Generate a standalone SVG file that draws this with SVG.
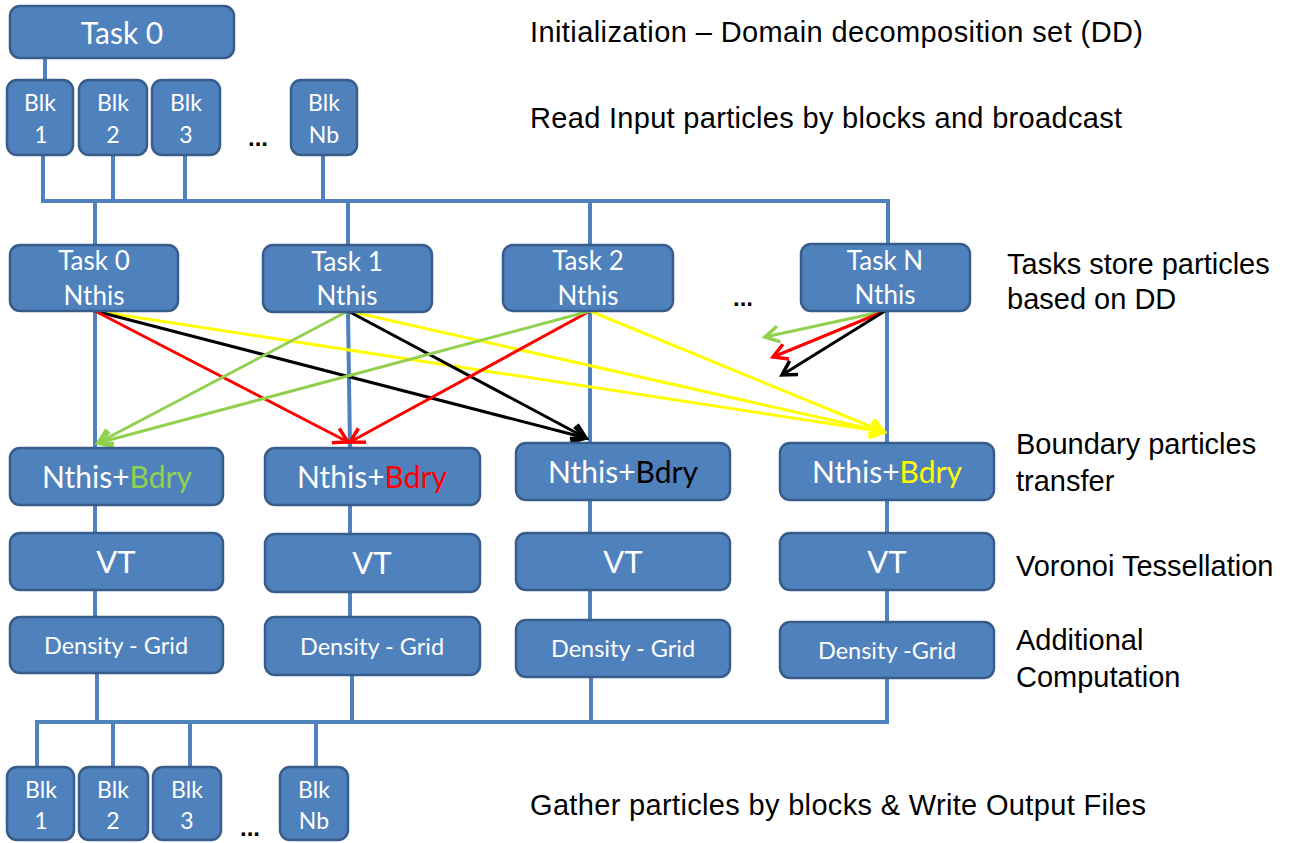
<svg xmlns="http://www.w3.org/2000/svg" width="1289" height="843" viewBox="0 0 1289 843">
<style>
.box{fill:#4F81BD;stroke:#385D8A;stroke-width:2.5}
.bt{fill:#FFFFFF;font-family:Lato,"Open Sans",sans-serif;text-anchor:middle}
.lbl{fill:#000000;font-family:"Liberation Sans",Arial,sans-serif;font-size:29px}
.dots{fill:#000000;font-family:"Liberation Sans",Arial,sans-serif;font-size:24px;font-weight:bold;text-anchor:middle}
.wire{stroke:#4F81BD;stroke-width:4;fill:none}
.arr{stroke-width:3;fill:none}
</style>
<defs>
<marker id="mY" markerUnits="userSpaceOnUse" markerWidth="20" markerHeight="20" viewBox="0 0 20 20" refX="17" refY="10" orient="auto"><path d="M3,2 L17,10 L3,18" fill="none" stroke="#FFFF00" stroke-width="3.5"/></marker>
<marker id="mR" markerUnits="userSpaceOnUse" markerWidth="20" markerHeight="20" viewBox="0 0 20 20" refX="17" refY="10" orient="auto"><path d="M3,2 L17,10 L3,18" fill="none" stroke="#FF0000" stroke-width="3.5"/></marker>
<marker id="mK" markerUnits="userSpaceOnUse" markerWidth="20" markerHeight="20" viewBox="0 0 20 20" refX="17" refY="10" orient="auto"><path d="M3,2 L17,10 L3,18" fill="none" stroke="#000000" stroke-width="3.5"/></marker>
<marker id="mG" markerUnits="userSpaceOnUse" markerWidth="20" markerHeight="20" viewBox="0 0 20 20" refX="17" refY="10" orient="auto"><path d="M3,2 L17,10 L3,18" fill="none" stroke="#92D050" stroke-width="3.5"/></marker>
</defs>
<rect width="1289" height="843" fill="#FFFFFF"/>

<g id="connectors">
<path class="wire" d="M45,58 V80"/>
<path class="wire" d="M43,155 V201 H888 V244"/>
<path class="wire" d="M113,155 V201"/>
<path class="wire" d="M185,155 V201"/>
<path class="wire" d="M323,155 V201"/>
<path class="wire" d="M95,201 V245"/>
<path class="wire" d="M348,201 V245"/>
<path class="wire" d="M590,201 V245"/>
<path class="wire" d="M95,311 V448"/>
<path class="wire" d="M348,312 L350,448"/>
<path class="wire" d="M590,311 V443"/>
<path class="wire" d="M887,311 V443"/>
<path class="wire" d="M95,505 V533"/>
<path class="wire" d="M350,505 V534"/>
<path class="wire" d="M590,500 V533"/>
<path class="wire" d="M887,500 V533"/>
<path class="wire" d="M95,590 V617"/>
<path class="wire" d="M350,592 V617"/>
<path class="wire" d="M590,590 V620"/>
<path class="wire" d="M887,590 V622"/>
<path class="wire" d="M97,673 V722"/>
<path class="wire" d="M352,675 V722"/>
<path class="wire" d="M591,677 V722"/>
<path class="wire" d="M887,678 V722 H37 V767"/>
<path class="wire" d="M113,722 V767"/>
<path class="wire" d="M190,722 V767"/>
<path class="wire" d="M316,722 V767"/>
<line class="arr" x1="95" y1="311" x2="884" y2="432" stroke="#FFFF00" marker-end="url(#mY)"/>
<line class="arr" x1="348" y1="311" x2="884" y2="432" stroke="#FFFF00" marker-end="url(#mY)"/>
<line class="arr" x1="590" y1="311" x2="884" y2="432" stroke="#FFFF00" marker-end="url(#mY)"/>
<line class="arr" x1="95" y1="311" x2="586" y2="438" stroke="#000000" marker-end="url(#mK)"/>
<line class="arr" x1="348" y1="311" x2="586" y2="438" stroke="#000000" marker-end="url(#mK)"/>
<line class="arr" x1="95" y1="311" x2="348" y2="442" stroke="#FF0000" marker-end="url(#mR)"/>
<line class="arr" x1="590" y1="311" x2="350" y2="442" stroke="#FF0000" marker-end="url(#mR)"/>
<line class="arr" x1="348" y1="311" x2="98" y2="443" stroke="#92D050" marker-end="url(#mG)"/>
<line class="arr" x1="590" y1="311" x2="98" y2="443" stroke="#92D050" marker-end="url(#mG)"/>
<line class="arr" x1="885" y1="311" x2="765" y2="337" stroke="#92D050" marker-end="url(#mG)"/>
<line class="arr" x1="885" y1="311" x2="773" y2="357" stroke="#FF0000" marker-end="url(#mR)"/>
<line class="arr" x1="885" y1="311" x2="782" y2="375" stroke="#000000" marker-end="url(#mK)"/>
</g>

<g id="task0-init"><rect class="box" x="10" y="6" width="224" height="52" rx="10"/><text class="bt" x="122" y="44" font-size="30">Task 0</text></g>

<g id="blk-in-1"><rect class="box" x="7" y="80" width="66" height="75" rx="10"/><text class="bt" x="40" y="111" font-size="23">Blk</text><text class="bt" x="41" y="143" font-size="23">1</text></g>
<g id="blk-in-2"><rect class="box" x="79" y="80" width="68" height="75" rx="10"/><text class="bt" x="113" y="111" font-size="23">Blk</text><text class="bt" x="113" y="143" font-size="23">2</text></g>
<g id="blk-in-3"><rect class="box" x="152" y="80" width="68" height="75" rx="10"/><text class="bt" x="186" y="111" font-size="23">Blk</text><text class="bt" x="186" y="143" font-size="23">3</text></g>
<text class="dots" x="258" y="146">...</text>
<g id="blk-in-nb"><rect class="box" x="291" y="80" width="66" height="75" rx="10"/><text class="bt" x="324" y="111" font-size="23">Blk</text><text class="bt" x="324" y="143" font-size="23">Nb</text></g>

<g id="task-0"><rect class="box" x="10" y="245" width="168" height="66" rx="10"/><text class="bt" x="94" y="270" font-size="26">Task 0</text><text class="bt" x="94" y="305" font-size="26">Nthis</text></g>
<g id="task-1"><rect class="box" x="263" y="245" width="169" height="67" rx="10"/><text class="bt" x="347" y="271" font-size="26">Task 1</text><text class="bt" x="347" y="305" font-size="26">Nthis</text></g>
<g id="task-2"><rect class="box" x="503" y="245" width="170" height="66" rx="10"/><text class="bt" x="588" y="270" font-size="26">Task 2</text><text class="bt" x="588" y="305" font-size="26">Nthis</text></g>
<text class="dots" x="743" y="306">...</text>
<g id="task-n"><rect class="box" x="801" y="244" width="169" height="67" rx="10"/><text class="bt" x="885" y="270" font-size="26">Task N</text><text class="bt" x="885" y="304" font-size="26">Nthis</text></g>

<g id="bdry-0"><rect class="box" x="10" y="448" width="213" height="57" rx="10"/><text class="bt" x="117" y="488" font-size="30">Nthis+<tspan fill="#92D050">Bdry</tspan></text></g>
<g id="bdry-1"><rect class="box" x="265" y="448" width="215" height="57" rx="10"/><text class="bt" x="372" y="488" font-size="30">Nthis+<tspan fill="#FF0000">Bdry</tspan></text></g>
<g id="bdry-2"><rect class="box" x="516" y="443" width="214" height="57" rx="10"/><text class="bt" x="623" y="483" font-size="30">Nthis+<tspan fill="#000000">Bdry</tspan></text></g>
<g id="bdry-n"><rect class="box" x="780" y="443" width="214" height="57" rx="10"/><text class="bt" x="887" y="483" font-size="30">Nthis+<tspan fill="#FFFF00">Bdry</tspan></text></g>

<g id="vt-0"><rect class="box" x="10" y="533" width="213" height="57" rx="10"/><text class="bt" x="116" y="573" font-size="31">VT</text></g>
<g id="vt-1"><rect class="box" x="265" y="534" width="215" height="58" rx="10"/><text class="bt" x="372" y="574" font-size="31">VT</text></g>
<g id="vt-2"><rect class="box" x="516" y="533" width="214" height="57" rx="10"/><text class="bt" x="623" y="573" font-size="31">VT</text></g>
<g id="vt-n"><rect class="box" x="780" y="533" width="214" height="57" rx="10"/><text class="bt" x="887" y="573" font-size="31">VT</text></g>

<g id="dens-0"><rect class="box" x="10" y="617" width="213" height="56" rx="10"/><text class="bt" x="116" y="654" font-size="23.5">Density - Grid</text></g>
<g id="dens-1"><rect class="box" x="265" y="617" width="215" height="58" rx="10"/><text class="bt" x="372" y="655" font-size="23.5">Density - Grid</text></g>
<g id="dens-2"><rect class="box" x="516" y="620" width="214" height="57" rx="10"/><text class="bt" x="623" y="657" font-size="23.5">Density - Grid</text></g>
<g id="dens-n"><rect class="box" x="780" y="622" width="214" height="56" rx="10"/><text class="bt" x="887" y="659" font-size="23.5">Density -Grid</text></g>

<g id="blk-out-1"><rect class="box" x="7" y="767" width="67" height="73" rx="10"/><text class="bt" x="41" y="798" font-size="23">Blk</text><text class="bt" x="41" y="829" font-size="23">1</text></g>
<g id="blk-out-2"><rect class="box" x="79" y="767" width="69" height="73" rx="10"/><text class="bt" x="113" y="798" font-size="23">Blk</text><text class="bt" x="113" y="829" font-size="23">2</text></g>
<g id="blk-out-3"><rect class="box" x="153" y="767" width="68" height="73" rx="10"/><text class="bt" x="187" y="798" font-size="23">Blk</text><text class="bt" x="187" y="829" font-size="23">3</text></g>
<text class="dots" x="250" y="836">...</text>
<g id="blk-out-nb"><rect class="box" x="280" y="767" width="68" height="73" rx="10"/><text class="bt" x="314" y="798" font-size="23">Blk</text><text class="bt" x="314" y="829" font-size="23">Nb</text></g>

<g id="labels">
<text class="lbl" x="530" y="42" textLength="613" lengthAdjust="spacing">Initialization – Domain decomposition set (DD)</text>
<text class="lbl" x="530" y="128" textLength="592" lengthAdjust="spacing">Read Input particles by blocks and broadcast</text>
<text class="lbl" x="1007" y="274">Tasks store particles</text>
<text class="lbl" x="1007" y="309">based on DD</text>
<text class="lbl" x="1016" y="454">Boundary particles</text>
<text class="lbl" x="1016" y="491">transfer</text>
<text class="lbl" x="1016" y="576">Voronoi Tessellation</text>
<text class="lbl" x="1016" y="650">Additional</text>
<text class="lbl" x="1016" y="687">Computation</text>
<text class="lbl" x="530" y="815" textLength="616" lengthAdjust="spacing">Gather particles by blocks &amp; Write Output Files</text>
</g>
</svg>
